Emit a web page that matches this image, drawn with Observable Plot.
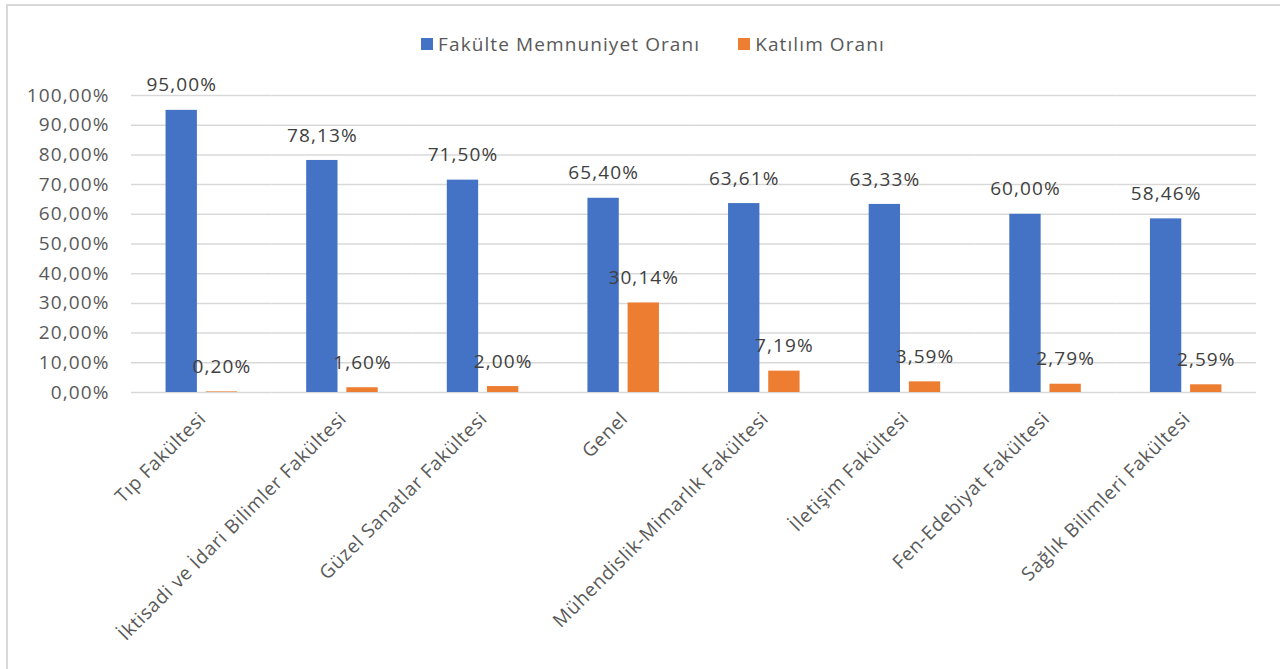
<!DOCTYPE html>
<html>
<head>
<meta charset="utf-8">
<script src="https://cdn.jsdelivr.net/npm/d3@7"></script>
<script src="https://cdn.jsdelivr.net/npm/@observablehq/plot@0.6"></script>
<style>
  html, body { margin: 0; padding: 0; background: #fff; overflow: hidden; }
  #frame { position: absolute; left: 6px; top: 4px; width: 1300px; height: 700px; border: 2px solid #d9d9d9; box-sizing: border-box; }
  #wrap { position: absolute; left: 0; top: 0; width: 1280px; height: 669px; font-family: "Open Sans", sans-serif; }
  #legend { height: 70px; box-sizing: border-box; padding-top: 18px; padding-left: 26px; display: flex; justify-content: center; align-items: center; font-size: 19px; letter-spacing: 1.1px; color: #595959; }
  .item { display: flex; align-items: center; margin: 0 19px; }
  .sw { width: 12px; height: 12px; margin-right: 5px; display: inline-block; }
  #chart { position: absolute; left: 0; top: 70px; }
  #chart svg text { letter-spacing: 1.1px; }
  #chart svg g.fxaxis text { letter-spacing: 0.7px; }
</style>
</head>
<body>
<div id="frame"></div>
<div id="wrap">
  <div id="legend"></div>
  <div id="chart"></div>
</div>
<script>
const categories = ["Tıp Fakültesi", "İktisadi ve İdari Bilimler Fakültesi", "Güzel Sanatlar Fakültesi", "Genel", "Mühendislik-Mimarlık Fakültesi", "İletişim Fakültesi", "Fen-Edebiyat Fakültesi", "Sağlık Bilimleri Fakültesi"];
const seriesNames = ["Fakülte Memnuniyet Oranı", "Katılım Oranı"];
const memnuniyet = [95.00, 78.13, 71.50, 65.40, 63.61, 63.33, 60.00, 58.46];
const katilim = [0.20, 1.60, 2.00, 30.14, 7.19, 3.59, 2.79, 2.59];
const yTicks = [0, 10, 20, 30, 40, 50, 60, 70, 80, 90, 100];
const colors = ["#4472C4", "#ED7D31"];

const data = [];
categories.forEach((c, i) => {
  data.push({cat: c, series: seriesNames[0], value: memnuniyet[i]});
  data.push({cat: c, series: seriesNames[1], value: katilim[i]});
});
const fmt = v => v.toFixed(2).replace(".", ",") + "%";

// legend
const legend = document.getElementById("legend");
seriesNames.forEach((s, i) => {
  const it = document.createElement("div");
  it.className = "item";
  const sw = document.createElement("span");
  sw.className = "sw";
  sw.style.background = colors[i];
  it.appendChild(sw);
  it.appendChild(document.createTextNode(s));
  legend.appendChild(it);
});

const chart = Plot.plot({
  width: 1280,
  height: 599,
  marginTop: 25,
  marginBottom: 277,
  marginLeft: 131,
  marginRight: 24,
  style: {fontFamily: "'Open Sans', sans-serif", fontSize: "19px", color: "#595959", background: "transparent"},
  fx: {domain: categories, padding: 0, round: false, label: null},
  x: {domain: seriesNames, paddingInner: 0.22, paddingOuter: 0.86, round: false, axis: null},
  y: {domain: [0, 100], label: null},
  color: {domain: seriesNames, range: colors},
  marks: [
    Plot.gridY(yTicks, {stroke: "#d9d9d9", strokeOpacity: 1, strokeWidth: 1.5}),
    Plot.axisY(yTicks, {tickFormat: fmt, tickSize: 0, tickPadding: 22, fontSize: 19, fill: "#595959", label: null}),
    Plot.axisFx({anchor: "bottom", tickRotate: -45, tickSize: 0, tickPadding: 23, dx: 1, fontSize: 19, fill: "#595959", label: null, className: "fxaxis"}),
    Plot.barY(data, {fx: "cat", x: "series", y: "value", fill: "series"}),
    Plot.text(data, {fx: "cat", x: "series", y: "value", text: d => fmt(d.value), dy: -25, fill: "#404040", fontSize: 19})
  ]
});
document.getElementById("chart").appendChild(chart);
</script>
</body>
</html>
